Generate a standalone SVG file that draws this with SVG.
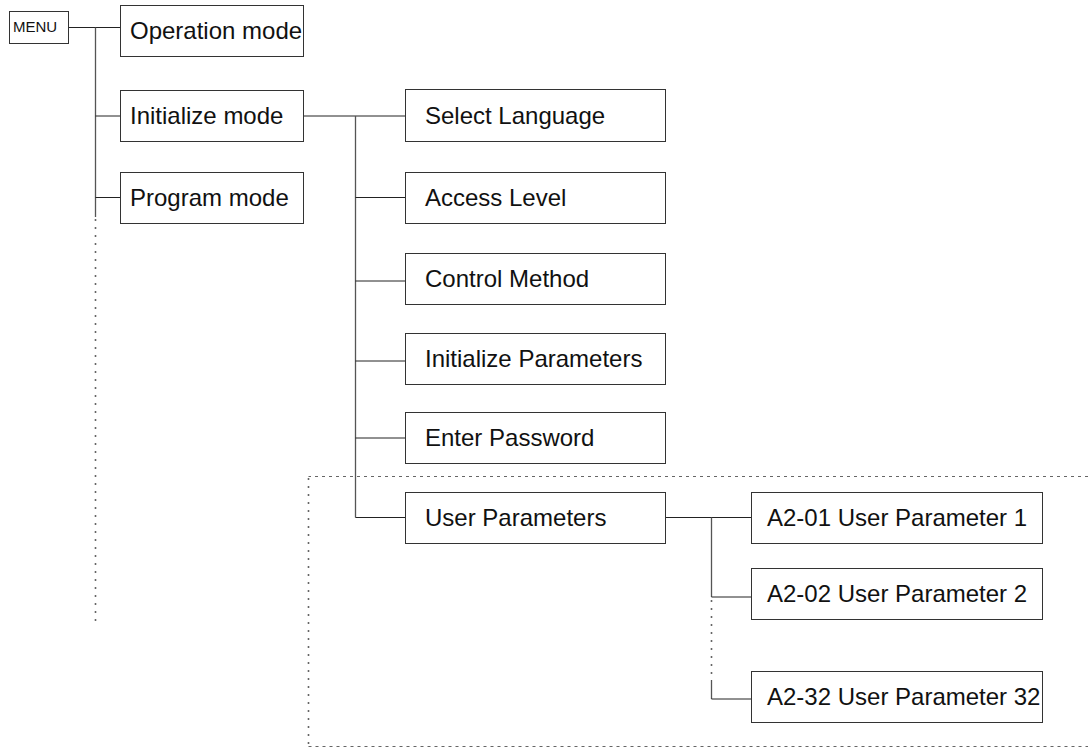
<svg xmlns="http://www.w3.org/2000/svg" width="1088" height="753" viewBox="0 0 1088 753">
<style>
.box{fill:#fff;stroke:#333;stroke-width:1}
.lbl{font-family:"Liberation Sans",Arial,sans-serif;font-size:24px;fill:#111}
.small{font-family:"Liberation Sans",Arial,sans-serif;font-size:15px;fill:#111}
.ln{stroke:#222;stroke-width:1;fill:none}
.sp{stroke:#555;stroke-width:1.3;fill:none}
.dot{stroke:#666;stroke-width:1.6;fill:none;stroke-dasharray:2,6}
.dash{stroke:#666;stroke-width:1.2;fill:none;stroke-dasharray:3,4}
</style>
<rect width="1088" height="753" fill="#fff"/>
<g id="connectors">
<line class="ln" x1="68" y1="27.5" x2="120" y2="27.5"/>
<line class="sp" x1="95.5" y1="27.5" x2="95.5" y2="217"/>
<line class="dot" x1="95.5" y1="219" x2="95.5" y2="621"/>
<line class="ln" x1="95.5" y1="116" x2="120" y2="116"/>
<line class="ln" x1="95.5" y1="197.5" x2="120" y2="197.5"/>
<line class="ln" x1="303" y1="116" x2="405" y2="116"/>
<line class="sp" x1="355.5" y1="116" x2="355.5" y2="517.5"/>
<line class="ln" x1="355.5" y1="197.5" x2="405" y2="197.5"/>
<line class="ln" x1="355.5" y1="281" x2="405" y2="281"/>
<line class="ln" x1="355.5" y1="361" x2="405" y2="361"/>
<line class="ln" x1="355.5" y1="438" x2="405" y2="438"/>
<line class="ln" x1="355.5" y1="517.5" x2="405" y2="517.5"/>
<line class="ln" x1="665" y1="517.5" x2="751" y2="517.5"/>
<line class="sp" x1="711.5" y1="517.5" x2="711.5" y2="597"/>
<line class="dot" x1="711.5" y1="600" x2="711.5" y2="680"/>
<line class="sp" x1="711.5" y1="680" x2="711.5" y2="699"/>
<line class="ln" x1="711.5" y1="597" x2="751" y2="597"/>
<line class="ln" x1="711.5" y1="699" x2="751" y2="699"/>
</g>
<g id="group-box">
<path class="dash" d="M1088,476.5 H308.5"/>
<path class="dot" d="M308.5,478 V746"/>
<path class="dash" d="M308.5,746.5 H1088"/>
</g>
<g id="menu"><rect class="box" x="9.5" y="11.5" width="59" height="32"/><text class="small" x="13" y="32">MENU</text></g>
<g id="operation-mode"><rect class="box" x="120.5" y="5.5" width="183" height="51"/><text class="lbl" x="130" y="39">Operation mode</text></g>
<g id="initialize-mode"><rect class="box" x="120.5" y="90.5" width="183" height="51"/><text class="lbl" x="130" y="124">Initialize mode</text></g>
<g id="program-mode"><rect class="box" x="120.5" y="172.5" width="183" height="51"/><text class="lbl" x="130" y="206">Program mode</text></g>
<g id="select-language"><rect class="box" x="405.5" y="89.5" width="260" height="52"/><text class="lbl" x="425" y="124">Select Language</text></g>
<g id="access-level"><rect class="box" x="405.5" y="172.5" width="260" height="51"/><text class="lbl" x="425" y="206">Access Level</text></g>
<g id="control-method"><rect class="box" x="405.5" y="253.5" width="260" height="51"/><text class="lbl" x="425" y="287">Control Method</text></g>
<g id="initialize-parameters"><rect class="box" x="405.5" y="333.5" width="260" height="51"/><text class="lbl" x="425" y="367">Initialize Parameters</text></g>
<g id="enter-password"><rect class="box" x="405.5" y="412.5" width="260" height="51"/><text class="lbl" x="425" y="446">Enter Password</text></g>
<g id="user-parameters"><rect class="box" x="405.5" y="492.5" width="260" height="51"/><text class="lbl" x="425" y="526">User Parameters</text></g>
<g id="a2-01"><rect class="box" x="751.5" y="492.5" width="291" height="51"/><text class="lbl" x="767" y="526">A2-01 User Parameter 1</text></g>
<g id="a2-02"><rect class="box" x="751.5" y="568.5" width="291" height="51"/><text class="lbl" x="767" y="602">A2-02 User Parameter 2</text></g>
<g id="a2-32"><rect class="box" x="751.5" y="671.5" width="291" height="51"/><text class="lbl" x="767" y="705">A2-32 User Parameter 32</text></g>
</svg>
